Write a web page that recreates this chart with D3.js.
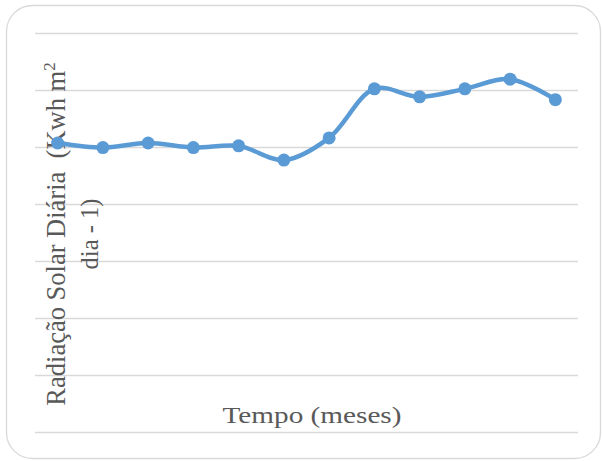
<!DOCTYPE html>
<html>
<head>
<meta charset="utf-8">
<script src="https://cdn.jsdelivr.net/npm/d3@7"></script>
<style>
  html, body { margin: 0; padding: 0; background: #fff; }
  svg { display: block; }
  text { font-family: "Liberation Serif", "Times New Roman", serif; fill: #595959; white-space: pre; }
</style>
</head>
<body>
<svg id="chart" width="602" height="461"></svg>
<script>
// Monthly daily solar radiation series
const months = ["1", "2", "3", "4", "5", "6", "7", "8", "9", "10", "11", "12"];
const radiation = [5.07, 4.99, 5.07, 4.99, 5.02, 4.77, 5.16, 6.02, 5.88, 6.02, 6.19, 5.83];
const yTicks = [0, 1, 2, 3, 4, 5, 6, 7];

const svg = d3.select("#chart");
const plot = { left: 35, right: 578, top: 33, bottom: 432 };

// Chart frame
svg.append("rect")
  .attr("x", 6.5).attr("y", 5.5)
  .attr("width", 594).attr("height", 453)
  .attr("rx", 26).attr("ry", 26)
  .attr("fill", "#fff")
  .attr("stroke", "#d9d9d9").attr("stroke-width", 1.3);

const x = d3.scaleBand().domain(months).range([plot.left, plot.right]);
const y = d3.scaleLinear().domain([0, 7]).range([plot.bottom, plot.top]);

// Horizontal gridlines
svg.append("g")
  .attr("transform", `translate(${plot.left},0)`)
  .call(d3.axisLeft(y).tickValues(yTicks).tickSize(-(plot.right - plot.left)).tickFormat(""))
  .call(g => g.select(".domain").remove())
  .call(g => g.selectAll(".tick line").attr("stroke", "#d9d9d9").attr("stroke-width", 1.3));

// Axis titles
svg.append("text")
  .attr("x", 312).attr("y", 423)
  .attr("text-anchor", "middle")
  .attr("font-size", 24)
  .attr("textLength", 179).attr("lengthAdjust", "spacingAndGlyphs")
  .text("Tempo (meses)");

const yTitle = svg.append("g").attr("transform", "rotate(-90)");
const line1 = yTitle.append("text")
  .attr("x", -234).attr("y", 65)
  .attr("text-anchor", "middle")
  .attr("font-size", 26.5);
line1.append("tspan").text("Radiação Solar Diária  (Kwh m");
line1.append("tspan").attr("font-size", 17).attr("dy", -10).text("2");
yTitle.append("text")
  .attr("x", -234).attr("y", 98)
  .attr("text-anchor", "middle")
  .attr("font-size", 24.5)
  .text("dia - 1)");

// Smoothed series line with markers
const cx = d => x(d.m) + x.bandwidth() / 2;
const data = months.map((m, i) => ({ m, v: radiation[i] }));

svg.append("path")
  .datum(data)
  .attr("fill", "none")
  .attr("stroke", "#5b9bd5")
  .attr("stroke-width", 4.5)
  .attr("stroke-linejoin", "round")
  .attr("stroke-linecap", "round")
  .attr("d", d3.line().x(cx).y(d => y(d.v)).curve(d3.curveCatmullRom.alpha(0.5)));

svg.append("g").selectAll("circle")
  .data(data)
  .join("circle")
  .attr("cx", cx)
  .attr("cy", d => y(d.v))
  .attr("r", 6.5)
  .attr("fill", "#5b9bd5");
</script>
</body>
</html>
